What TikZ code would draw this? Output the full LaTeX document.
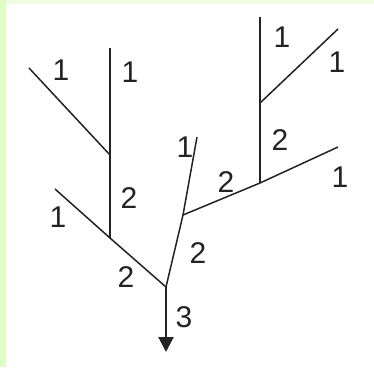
\documentclass[tikz,border=0pt]{standalone}
\usepackage{fontspec}
\setmainfont{Liberation Sans}
\usetikzlibrary{arrows.meta}
\definecolor{edgegreen}{RGB}{222,252,196}
\definecolor{topgreen}{RGB}{238,253,225}
\definecolor{streamline}{RGB}{35,35,35}
\tikzset{
  trunk/.style={streamline, line width=2.1pt},
  twig/.style={streamline, line width=1.5pt},
  order/.style={font=\fontsize{30}{30}\selectfont, text=streamline, inner sep=0pt}
}

\begin{document}
\begin{tikzpicture}[x=1pt, y=-1pt]
		\useasboundingbox (0,0) rectangle (374,367);
		\fill[white] (0,0) rectangle (374,367);
		\fill[topgreen] (0,0) rectangle (374,4);
		\fill[edgegreen] (0,0) rectangle (6,367);
		
		% junctions
		\coordinate (outlet) at (166,287);
		\coordinate (jleft) at (110,238);
		\coordinate (jleftup) at (110,155);
		\coordinate (jmid) at (183,215);
		\coordinate (jright) at (260,183);
		\coordinate (jrightup) at (260,103);
		% sources
		\coordinate (sa) at (55,189);
		\coordinate (sb) at (29,68);
		\coordinate (sc) at (110,48);
		\coordinate (sd) at (197,137);
		\coordinate (se) at (338,147);
		\coordinate (sf) at (260,17);
		\coordinate (sg) at (338,29);
		\coordinate (mouth) at (166,352);
		
		% left tree
		\draw[twig] (outlet) -- (jleft) -- (sa);
		\draw[trunk] (jleft) -- (sc);
		\draw[twig] (jleftup) -- (sb);
		
		% middle and right tree
		\draw[twig] (outlet) -- (jmid) -- (sd);
		\draw[twig] (jmid) -- (jright) -- (se);
		\draw[trunk] (jright) -- (sf);
		\draw[twig] (jrightup) -- (sg);
		
		% outflow
		\draw[trunk, -{Triangle[width=15pt,length=15pt]}] (outlet) -- (mouth);
		
		% stream orders
		\node[order] (oa) at (58,217) {1};
		\node[order] (ob) at (61,70) {1};
		\node[order] (oc) at (130,72) {1};
		\node[order] (od) at (129,198) {2};
		\node[order] (oe) at (126,277) {2};
		\node[order] (of) at (185,147) {1};
		\node[order] (og) at (198,253) {2};
		\node[order] (oh) at (226,182) {2};
		\node[order] (oi) at (340,177) {1};
		\node[order] (oj) at (280,140) {2};
		\node[order] (ok) at (337,62) {1};
		\node[order] (ol) at (282,37) {1};
		\node[order] (om) at (184,317) {3};
	\end{tikzpicture}
\end{document}
